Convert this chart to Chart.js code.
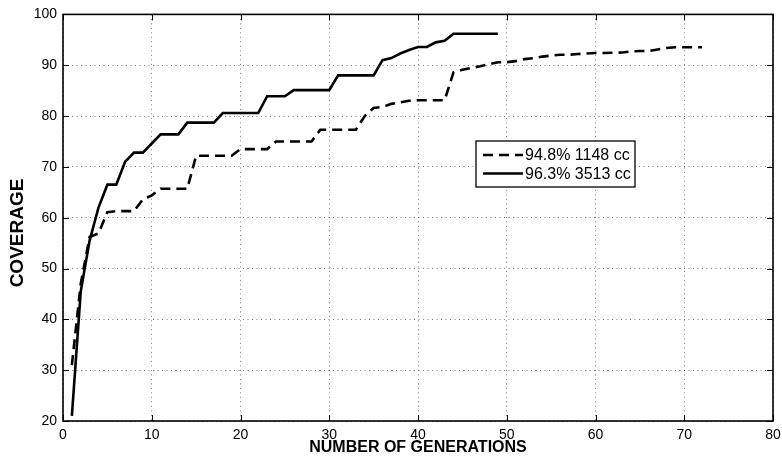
<!DOCTYPE html>
<html>
<head>
<meta charset="utf-8">
<script src="https://cdn.jsdelivr.net/npm/chart.js@4/dist/chart.umd.min.js"></script>
<style>
  html, body { margin: 0; padding: 0; background: #fff; }
  #chart { display: block; }
</style>
</head>
<body>
<canvas id="chart" width="782" height="459"></canvas>
<script>
// generations (x) for each run
const gensShort = [];   // 1148 cc run, 72 generations
for (let g = 1; g <= 72; g++) gensShort.push(g);
const gensLong = [];    // 3513 cc run, 49 generations
for (let g = 1; g <= 49; g++) gensLong.push(g);

// coverage
const coverage1148 = [
  31, 47, 56.2, 56.9, 61.1, 61.3, 61.3, 61.3, 63.6, 64.4,
  65.7, 65.7, 65.7, 65.7, 72.2, 72.2, 72.2, 72.2, 72.2, 73.5,
  73.5, 73.5, 73.5, 75.0, 75.0, 75.0, 75.0, 75.0, 77.3, 77.3,
  77.3, 77.3, 77.3, 80.0, 81.6, 81.8, 82.4, 82.7, 83.0, 83.1,
  83.1, 83.1, 83.1, 88.6, 89.1, 89.45, 89.8, 90.2, 90.6, 90.6,
  90.8, 91.2, 91.4, 91.7, 91.9, 92.05, 92.05, 92.2, 92.3, 92.4,
  92.4, 92.45, 92.5, 92.7, 92.8, 92.8, 93.1, 93.4, 93.55, 93.55,
  93.55, 93.55
];
const coverage3513 = [
  21, 45.5, 55.5, 62, 66.5, 66.5, 71.0, 72.8, 72.8, 74.6,
  76.4, 76.4, 76.4, 78.7, 78.7, 78.7, 78.7, 80.6, 80.6, 80.6,
  80.6, 80.6, 83.9, 83.9, 83.9, 85.1, 85.1, 85.1, 85.1, 85.1,
  88.0, 88.0, 88.0, 88.0, 88.0, 91.0, 91.4, 92.3, 93.0, 93.6,
  93.6, 94.5, 94.8, 96.2, 96.2, 96.2, 96.2, 96.2, 96.2
];

const seriesLabels = ['94.8% 1148 cc', '96.3% 3513 cc'];
const xTitle = 'NUMBER OF GENERATIONS';
const yTitle = 'COVERAGE';

const FONT = "'Liberation Sans', Arial, Helvetica, sans-serif";

// box round the plot, inward ticks, y title and the legend box
const framePlugin = {
  id: 'frame',
  afterDatasetsDraw(chart) {
    const { ctx, chartArea: a, scales } = chart;
    ctx.save();
    ctx.strokeStyle = '#000';
    ctx.lineWidth = 1;
    ctx.beginPath();
    scales.x.ticks.forEach(t => {
      const px = Math.round(scales.x.getPixelForValue(t.value)) + 0.5;
      ctx.moveTo(px, a.bottom); ctx.lineTo(px, a.bottom - 6);
      ctx.moveTo(px, a.top); ctx.lineTo(px, a.top + 6);
    });
    scales.y.ticks.forEach(t => {
      const py = Math.round(scales.y.getPixelForValue(t.value)) + 0.5;
      ctx.moveTo(a.left, py); ctx.lineTo(a.left + 6, py);
      ctx.moveTo(a.right, py); ctx.lineTo(a.right - 6, py);
    });
    ctx.stroke();
    ctx.lineWidth = 1.6;
    ctx.strokeRect(a.left, a.top, a.right - a.left, a.bottom - a.top);

    // y axis title (sits a bit below the middle in the original)
    ctx.save();
    ctx.translate(18, 233);
    ctx.rotate(-Math.PI / 2);
    ctx.fillStyle = '#000';
    ctx.font = 'bold 19px ' + FONT;
    ctx.textAlign = 'center';
    ctx.textBaseline = 'middle';
    ctx.fillText(yTitle, 0, 0);
    ctx.restore();

    // legend
    const bx = 476, by = 141, bw = 159, bh = 46;
    ctx.fillStyle = '#fff';
    ctx.fillRect(bx, by, bw, bh);
    ctx.lineWidth = 1.3;
    ctx.strokeRect(bx, by, bw, bh);
    chart.data.datasets.forEach((ds, i) => {
      const y = by + 14 + i * 18.5;
      ctx.beginPath();
      ctx.setLineDash(ds.borderDash || []);
      ctx.lineWidth = ds.borderWidth;
      ctx.moveTo(483, y); ctx.lineTo(523, y);
      ctx.stroke();
      ctx.setLineDash([]);
      ctx.fillStyle = '#000';
      ctx.font = '16px ' + FONT;
      ctx.textBaseline = 'middle';
      ctx.textAlign = 'left';
      ctx.fillText(ds.label, 525, y + 1);
    });
    ctx.restore();
  }
};

new Chart(document.getElementById('chart').getContext('2d'), {
  type: 'line',
  data: {
    datasets: [
      {
        label: seriesLabels[0],
        data: gensShort.map((g, i) => ({ x: g, y: coverage1148[i] })),
        borderColor: '#000',
        borderWidth: 2.6,
        borderDash: [10, 6],
        pointRadius: 0,
        tension: 0,
        fill: false
      },
      {
        label: seriesLabels[1],
        data: gensLong.map((g, i) => ({ x: g, y: coverage3513[i] })),
        borderColor: '#000',
        borderWidth: 2.6,
        pointRadius: 0,
        tension: 0,
        fill: false
      }
    ]
  },
  options: {
    responsive: false,
    animation: false,
    devicePixelRatio: 1,
    layout: { padding: { left: 0, right: 9, top: 11, bottom: 0 } },
    plugins: {
      legend: { display: false },
      tooltip: { enabled: false }
    },
    scales: {
      x: {
        type: 'linear',
        min: 0,
        max: 80,
        afterFit: s => { s.height = 38; s.paddingLeft = 0; s.paddingRight = 0; },
        ticks: { stepSize: 10, color: '#000', padding: 6, font: { family: FONT, size: 14 } },
        grid: { color: 'rgba(0,0,0,0.5)', lineWidth: 1, drawTicks: false },
        border: { display: false, dash: [1, 3.5] },
        title: {
          display: true,
          text: xTitle,
          color: '#000',
          font: { family: FONT, size: 16, weight: 'bold' },
          padding: { top: 0, bottom: 2 }
        }
      },
      y: {
        type: 'linear',
        min: 20,
        max: 100,
        afterFit: s => { s.width = 63; },
        ticks: { stepSize: 10, color: '#000', padding: 6, font: { family: FONT, size: 14 } },
        grid: { color: 'rgba(0,0,0,0.5)', lineWidth: 1, drawTicks: false },
        border: { display: false, dash: [1, 3.5] },
        title: { display: false, text: yTitle }
      }
    }
  },
  plugins: [framePlugin]
});
</script>
</body>
</html>
